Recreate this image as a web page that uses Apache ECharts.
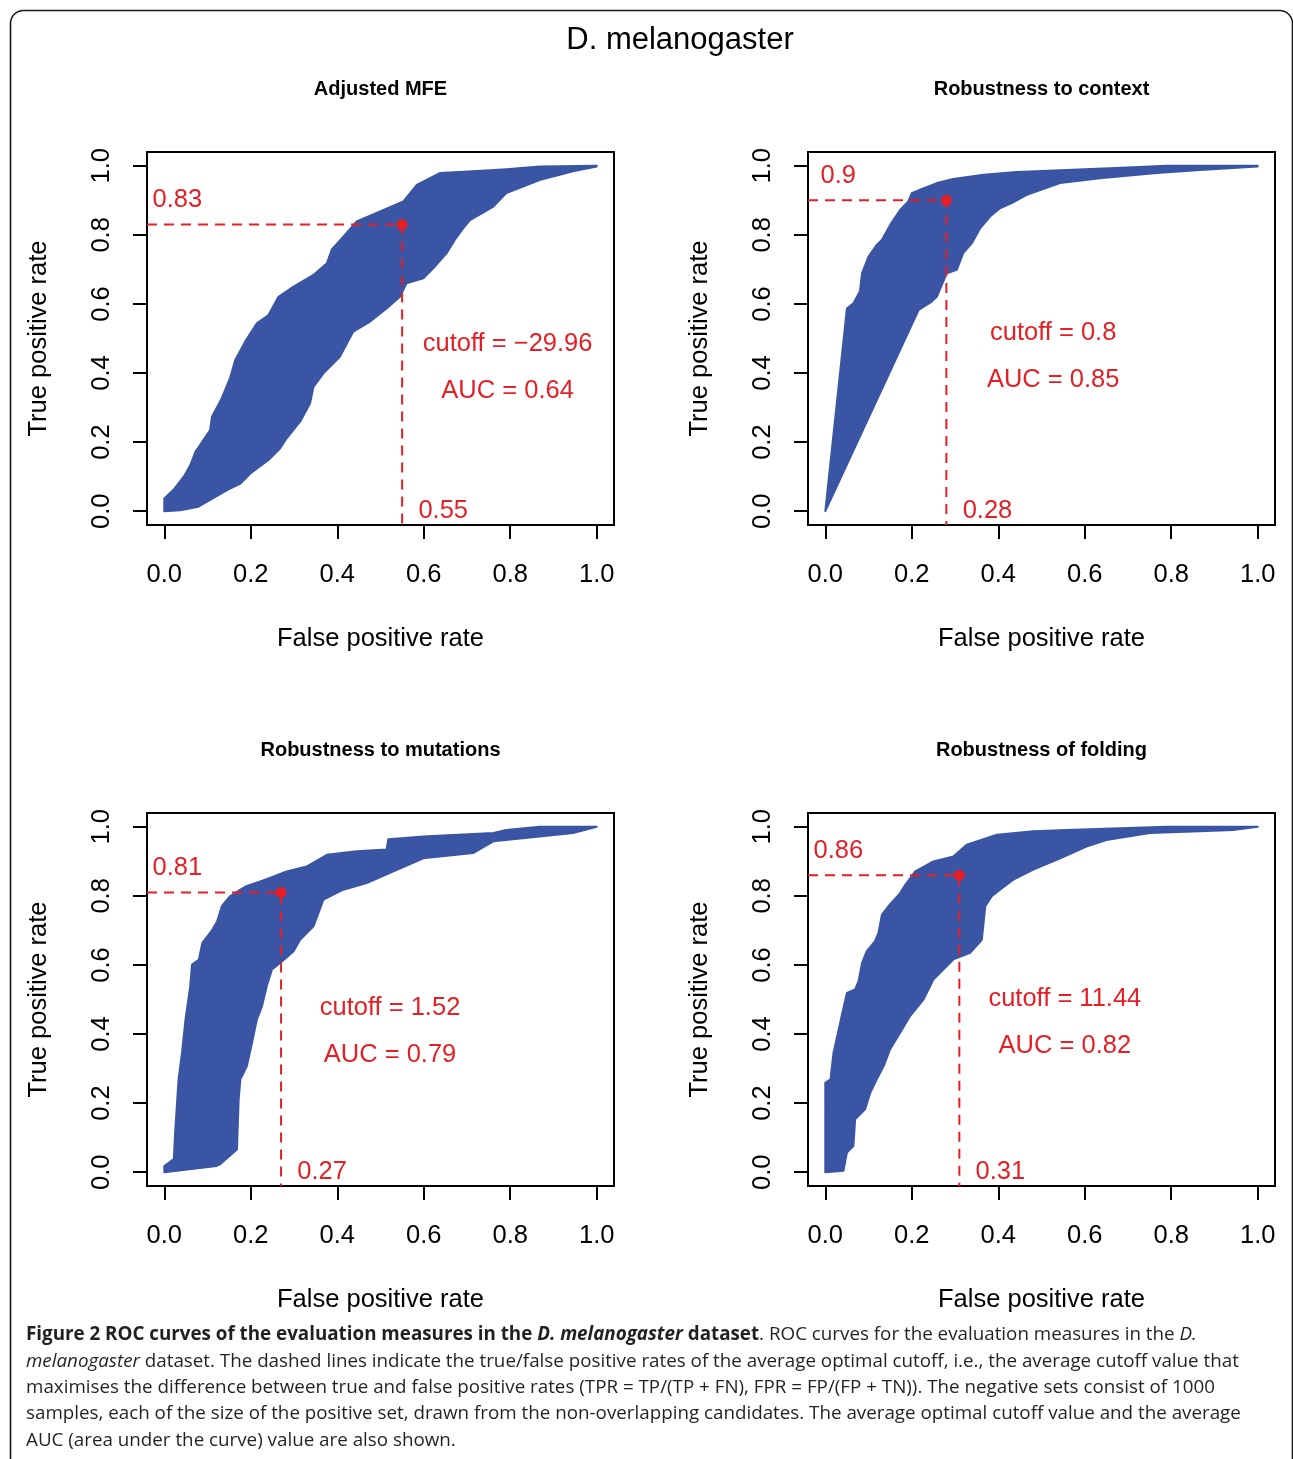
<!DOCTYPE html>
<html>
<head>
<meta charset="utf-8">
<script src="https://cdn.jsdelivr.net/npm/echarts@6/dist/echarts.min.js"></script>
<style>
html,body{margin:0;padding:0;background:#fff;}
#chart{width:1293px;height:1459px;}
</style>
</head>
<body>
<div id="chart"></div>
<script>
// ---------------- data ----------------
const MAIN_TITLE = 'D. melanogaster';
const PANEL_TITLES = ['Adjusted MFE', 'Robustness to context', 'Robustness to mutations', 'Robustness of folding'];
const X_NAME = 'False positive rate';
const Y_NAME = 'True positive rate';
const TICKS = [0, 0.2, 0.4, 0.6, 0.8, 1.0];
const CUT_FPR = [0.55, 0.28, 0.27, 0.31];
const CUT_TPR = [0.83, 0.9, 0.81, 0.86];
const CUTOFF_VALUES = ['\u221229.96', '0.8', '1.52', '11.44'];
const AUC_VALUES = ['0.64', '0.85', '0.79', '0.82'];

// envelopes of the bundle of ROC curves (FPR, TPR)
const UPPER_MFE = [[0,0],[0,0.037],[0.022,0.063],[0.045,0.100],[0.060,0.133],[0.072,0.172],[0.106,0.235],[0.110,0.273],[0.133,0.327],[0.152,0.385],[0.164,0.438],[0.187,0.491],[0.214,0.544],[0.241,0.568],[0.264,0.621],[0.299,0.650],[0.345,0.684],[0.376,0.718],[0.387,0.757],[0.414,0.795],[0.445,0.839],[0.499,0.868],[0.553,0.897],[0.584,0.945],[0.637,0.979],[0.714,0.984],[0.791,0.990],[0.868,0.998],[1,1]];
const LOWER_MFE = [[0,0],[0.037,0.003],[0.079,0.013],[0.145,0.061],[0.176,0.080],[0.199,0.109],[0.241,0.148],[0.268,0.182],[0.283,0.211],[0.314,0.259],[0.337,0.312],[0.345,0.360],[0.368,0.399],[0.406,0.447],[0.437,0.520],[0.476,0.549],[0.514,0.587],[0.545,0.621],[0.560,0.660],[0.599,0.674],[0.622,0.703],[0.653,0.747],[0.672,0.786],[0.691,0.819],[0.707,0.843],[0.761,0.882],[0.791,0.921],[0.868,0.959],[0.945,0.984],[1,0.998]];

const UPPER_CONTEXT = [[0,0],[0.050,0.587],[0.065,0.602],[0.080,0.636],[0.085,0.689],[0.100,0.737],[0.119,0.771],[0.131,0.786],[0.150,0.829],[0.173,0.872],[0.192,0.897],[0.200,0.921],[0.219,0.931],[0.258,0.950],[0.296,0.962],[0.366,0.974],[0.443,0.982],[0.558,0.988],[0.712,0.996],[0.789,1.0],[1,1]];
const LOWER_CONTEXT = [[0,0],[0.216,0.583],[0.246,0.607],[0.258,0.621],[0.281,0.689],[0.304,0.699],[0.319,0.747],[0.339,0.776],[0.358,0.819],[0.381,0.853],[0.404,0.877],[0.431,0.892],[0.466,0.916],[0.497,0.930],[0.543,0.950],[0.635,0.964],[0.766,0.979],[0.866,0.988],[1,0.998]];

const UPPER_MUTATIONS = [[0,0],[0,0.018],[0.022,0.038],[0.025,0.115],[0.033,0.269],[0.041,0.346],[0.049,0.442],[0.060,0.539],[0.064,0.601],[0.080,0.616],[0.088,0.664],[0.111,0.702],[0.122,0.726],[0.133,0.770],[0.152,0.799],[0.176,0.818],[0.191,0.829],[0.222,0.842],[0.253,0.856],[0.283,0.871],[0.329,0.885],[0.376,0.919],[0.445,0.929],[0.514,0.934],[0.518,0.964],[0.599,0.972],[0.761,0.982],[0.791,0.991],[0.868,1.0],[1,1]];
const LOWER_MUTATIONS = [[0,0],[0.121,0.018],[0.129,0.023],[0.168,0.066],[0.172,0.211],[0.176,0.269],[0.191,0.307],[0.203,0.375],[0.214,0.442],[0.226,0.481],[0.237,0.539],[0.249,0.587],[0.268,0.606],[0.299,0.640],[0.314,0.673],[0.345,0.712],[0.368,0.789],[0.414,0.818],[0.468,0.837],[0.530,0.871],[0.599,0.909],[0.714,0.924],[0.761,0.958],[0.868,0.972],[0.945,0.982],[1,1]];

const UPPER_FOLDING = [[0,0],[0,0.259],[0.012,0.269],[0.019,0.346],[0.031,0.413],[0.043,0.481],[0.050,0.519],[0.069,0.529],[0.077,0.553],[0.085,0.606],[0.096,0.640],[0.115,0.669],[0.123,0.693],[0.131,0.746],[0.146,0.770],[0.173,0.808],[0.185,0.832],[0.208,0.871],[0.250,0.900],[0.296,0.914],[0.327,0.948],[0.397,0.977],[0.481,0.987],[0.558,0.991],[0.789,1.0],[1,1]];
const LOWER_FOLDING = [[0,0],[0.042,0.004],[0.050,0.057],[0.065,0.076],[0.069,0.153],[0.092,0.182],[0.104,0.230],[0.119,0.269],[0.135,0.307],[0.150,0.356],[0.173,0.404],[0.196,0.452],[0.227,0.500],[0.250,0.558],[0.273,0.587],[0.296,0.616],[0.335,0.635],[0.362,0.673],[0.370,0.770],[0.385,0.799],[0.404,0.818],[0.435,0.847],[0.481,0.876],[0.543,0.909],[0.604,0.943],[0.650,0.962],[0.751,0.982],[0.866,0.987],[0.943,0.991],[1,1]];

const UPPERS = [UPPER_MFE, UPPER_CONTEXT, UPPER_MUTATIONS, UPPER_FOLDING];
const LOWERS = [LOWER_MFE, LOWER_CONTEXT, LOWER_MUTATIONS, LOWER_FOLDING];

const CAPTION_LINES = [
  [['b','Figure 2 ROC curves of the evaluation measures in the '],['bi','D. melanogaster'],['b',' dataset'],['r','. ROC curves for the evaluation measures in the '],['i','D.']],
  [['i','melanogaster'],['r',' dataset. The dashed lines indicate the true/false positive rates of the average optimal cutoff, i.e., the average cutoff value that']],
  [['r','maximises the difference between true and false positive rates (TPR = TP/(TP + FN), FPR = FP/(FP + TN)). The negative sets consist of 1000']],
  [['r','samples, each of the size of the positive set, drawn from the non-overlapping candidates. The average optimal cutoff value and the average']],
  [['r','AUC (area under the curve) value are also shown.']]
];

// ---------------- layout / style ----------------
const BLUE = '#3a55a4';
const RED = '#e41f26';
const FONT = '"Liberation Sans", Arial, Helvetica, sans-serif';
const CAP_FONT = '"Open Sans", "Noto Sans", sans-serif';
const FS = 25.5;
const GRID_POS = [[147, 152], [808, 152], [147, 813], [808, 813]];
const GW = 467, GH = 373;
const AX_MIN = -0.04, AX_MAX = 1.04;
const TEXT_X = [0.794, 0.527, 0.522, 0.554];
const CUT_Y = [0.484, 0.516, 0.475, 0.501];
const AUC_Y = [0.348, 0.380, 0.339, 0.365];
const CAP_Y = [1335, 1362, 1388, 1414, 1441];

const grids = [], xAxes = [], yAxes = [], series = [], graphics = [];

for (let i = 0; i < 4; i++) {
  const [gl, gt] = GRID_POS[i];
  grids.push({left: gl, top: gt, width: GW, height: GH, show: true, borderColor: '#000', borderWidth: 2, backgroundColor: 'transparent', containLabel: false});
  const axisCommon = {
    gridIndex: i, type: 'value', min: AX_MIN, max: AX_MAX,
    splitLine: {show: false}, axisLine: {show: false, onZero: false},
    axisTick: {show: true, customValues: TICKS, length: 14, lineStyle: {color: '#000', width: 2}},
    nameLocation: 'middle',
    nameTextStyle: {fontFamily: FONT, fontSize: FS, color: '#000'}
  };
  xAxes.push(Object.assign({}, axisCommon, {
    position: 'bottom', name: X_NAME, nameGap: 101,
    axisLabel: {customValues: TICKS, formatter: v => v.toFixed(1), margin: 37, fontFamily: FONT, fontSize: FS, color: '#000'}
  }));
  yAxes.push(Object.assign({}, axisCommon, {
    position: 'left', name: Y_NAME, nameGap: 95,
    axisLabel: {customValues: TICKS, formatter: v => v.toFixed(1), rotate: 90, margin: 32, fontFamily: FONT, fontSize: FS, color: '#000'}
  }));

  const up = UPPERS[i], lo = LOWERS[i];
  series.push({
    type: 'custom', xAxisIndex: i, yAxisIndex: i, silent: true, z: 2,
    data: [[0, 0]],
    renderItem: function (params, api) {
      const ring = up.concat(lo.slice().reverse());
      const pts = ring.map(p => api.coord(p));
      return {type: 'polygon', shape: {points: pts}, style: {fill: BLUE, stroke: BLUE, lineWidth: 2, lineJoin: 'round'}};
    }
  });
  // dashed guide lines
  series.push({
    type: 'line', xAxisIndex: i, yAxisIndex: i, silent: true, z: 3, symbol: 'none',
    data: [[AX_MIN, CUT_TPR[i]], [CUT_FPR[i], CUT_TPR[i]], [CUT_FPR[i], AX_MIN]],
    lineStyle: {color: RED, width: 2, type: [10, 7], opacity: 1}
  });
  // optimal point
  series.push({
    type: 'scatter', xAxisIndex: i, yAxisIndex: i, silent: true, z: 4,
    symbol: 'circle', symbolSize: 11, itemStyle: {color: RED, opacity: 1},
    data: [[CUT_FPR[i], CUT_TPR[i]]]
  });
  // red annotations
  const lab = (v, t) => ({value: v, label: {show: true, formatter: t}});
  series.push({
    type: 'scatter', xAxisIndex: i, yAxisIndex: i, silent: true, z: 5,
    symbol: 'circle', symbolSize: 1, itemStyle: {color: 'rgba(0,0,0,0)', opacity: 1},
    label: {show: true, position: 'inside', color: RED, fontFamily: FONT, fontSize: FS, opacity: 1},
    data: [
      lab([0.03, CUT_TPR[i] + 0.07], String(CUT_TPR[i])),
      lab([CUT_FPR[i] + 0.095, 0.0], String(CUT_FPR[i])),
      lab([TEXT_X[i], CUT_Y[i]], 'cutoff = ' + CUTOFF_VALUES[i]),
      lab([TEXT_X[i], AUC_Y[i]], 'AUC = ' + AUC_VALUES[i])
    ]
  });
  graphics.push({
    type: 'text', x: gl + GW / 2, y: gt - 63,
    style: {text: PANEL_TITLES[i], font: 'bold 20px ' + FONT, fill: '#000', align: 'center', verticalAlign: 'middle'}
  });
}

graphics.push({
  type: 'rect', shape: {x: 10.5, y: 10.5, width: 1282, height: 1500, r: 13},
  style: {fill: 'none', stroke: '#1a1a1a', lineWidth: 1.6}, z: -1
});
graphics.push({
  type: 'text', x: 680, y: 40,
  style: {text: MAIN_TITLE, font: '31px ' + FONT, fill: '#000', align: 'center', verticalAlign: 'middle'}
});

const CAP_FS = 18.8;
const rich = {
  b: {fontFamily: CAP_FONT, fontSize: CAP_FS, fontWeight: 'bold', fill: '#231f20', color: '#231f20'},
  bi: {fontFamily: CAP_FONT, fontSize: CAP_FS, fontWeight: 'bold', fontStyle: 'italic', fill: '#231f20', color: '#231f20'},
  i: {fontFamily: CAP_FONT, fontSize: CAP_FS, fontStyle: 'italic', fill: '#231f20', color: '#231f20'},
  r: {fontFamily: CAP_FONT, fontSize: CAP_FS, fill: '#231f20', color: '#231f20'}
};
CAPTION_LINES.forEach((segs, k) => {
  graphics.push({
    type: 'text', x: 26, y: CAP_Y[k],
    style: {
      text: segs.map(s => '{' + s[0] + '|' + s[1] + '}').join(''),
      rich: rich, align: 'left', verticalAlign: 'middle',
      font: CAP_FS + 'px ' + CAP_FONT, fill: '#231f20'
    }
  });
});

const chart = echarts.init(document.getElementById('chart'), null, {renderer: 'canvas'});
chart.setOption({
  backgroundColor: '#fff',
  animation: false,
  grid: grids, xAxis: xAxes, yAxis: yAxes, series: series,
  graphic: {elements: graphics}
});
</script>
</body>
</html>
